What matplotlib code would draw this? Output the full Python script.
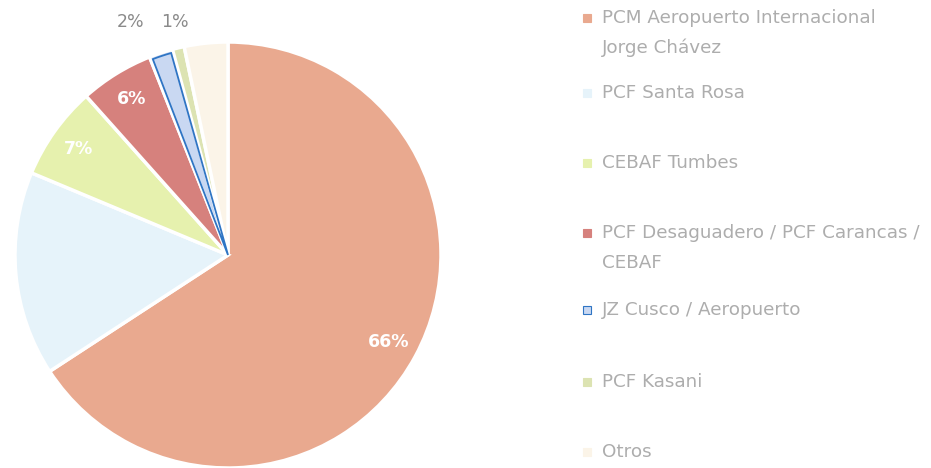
import matplotlib
matplotlib.use("Agg")
import matplotlib.pyplot as plt
import numpy as np
from matplotlib.patches import Rectangle, Wedge

categories = ["PCM Aeropuerto Internacional\nJorge Chávez", "PCF Santa Rosa", "CEBAF Tumbes",
              "PCF Desaguadero / PCF Carancas /\nCEBAF", "JZ Cusco / Aeropuerto", "PCF Kasani", "Otros"]
values = [65.8, 15.5, 7.1, 5.6, 1.8, 0.9, 3.3]
pct_labels = ["66%", "", "7%", "6%", "2%", "1%", ""]
colors = ["#E9A98F", "#E6F3FA", "#E6F1AE", "#D6817D", "#C9D8F2", "#DCE3B2", "#FBF4E8"]
edgecols = [None, None, None, None, "#2F75C4", None, None]

W, H = 931, 468
fig = plt.figure(figsize=(W / 100, H / 100), dpi=100)
fig.patch.set_facecolor("white")

cx, cy, R = 228, 255, 213
ax = fig.add_axes([(cx - R) / W, (H - cy - R) / H, 2 * R / W, 2 * R / H])

wedges, _ = ax.pie(values, colors=colors, startangle=90, counterclock=False, radius=1,
                   wedgeprops=dict(linewidth=2.5, edgecolor="white"))
ax.set_xlim(-1, 1)
ax.set_ylim(-1, 1)
ax.set_aspect("equal")
ax.axis("off")

for w, ec in zip(wedges, edgecols):
    if ec:
        ax.add_patch(Wedge((0, 0), 0.985, w.theta1 + 0.6, w.theta2 - 0.6,
                           facecolor="none", edgecolor=ec, linewidth=1.3))

outside_y = 1.094
for i, (w, lab) in enumerate(zip(wedges, pct_labels)):
    if not lab:
        continue
    mid = (w.theta1 + w.theta2) / 2
    if values[i] < 4:
        ang = np.deg2rad(mid + (4.4 if i == 4 else -0.7))
        x = outside_y / np.tan(ang)
        ax.text(x, outside_y, lab, ha="center", va="center",
                color="#8A8A8A", fontsize=12.5, clip_on=False)
    else:
        r = 0.86
        m = np.deg2rad(mid)
        ax.text(r * np.cos(m), r * np.sin(m), lab, ha="center", va="center",
                color="white", fontsize=12.5, fontweight="bold")

# legend
row_y = [18, 93, 163, 233, 310, 382, 452]
for lab, col, ec, y in zip(categories, colors, edgecols, row_y):
    sq = 8
    fig.patches.append(Rectangle(((587 - sq / 2) / W, (H - y - sq / 2) / H), sq / W, sq / H,
                                 transform=fig.transFigure, facecolor=col,
                                 edgecolor=ec if ec else col, linewidth=0.8))
    for k, line in enumerate(lab.split("\n")):
        fig.text(602 / W, (H - y - 30 * k) / H, line, ha="left", va="center",
                 color="#ADADAD", fontsize=13.2)

fig.savefig("out.png", dpi=100, facecolor="white")
